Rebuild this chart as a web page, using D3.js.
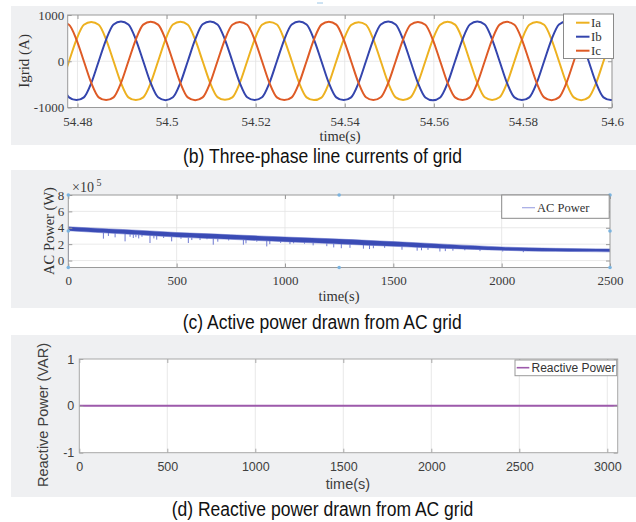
<!DOCTYPE html>
<html>
<head>
<meta charset="utf-8">
<script src="https://cdn.jsdelivr.net/npm/d3@7"></script>
<style>
  body { margin: 0; background: #fff; }
</style>
</head>
<body>
<div id="chart"></div>
<script>
// ---- (b) three-phase grid currents, read 12 times per 50 Hz cycle ----
const currentStart = 54.47643;
const currentStep = 0.02 / 12;
const ia = [-470,
  0, 470, 790, 850, 790, 470, 0, -470, -780, -840, -780, -470,
  0, 475, 795, 855, 790, 465, 0, -465, -775, -835, -780, -470,
  0, 470, 790, 850, 795, 470, 5, -470, -780, -840, -785, -475,
  0, 465, 785, 845, 790, 470, 0, -470, -780, -838, -780, -470,
  0, 470, 790, 852, 792, 472, 0, -468, -778, -836, -778, -468,
  0, 470, 790, 850, 790, 470, 0, -470, -782, -842, -782, -472,
  0, 470, 790];
const ib = [-470, -780, -840, -780, -470,
  0, 470, 795, 860, 795, 470, 0, -470, -780, -842, -780, -470,
  0, 472, 798, 862, 796, 470, 0, -468, -778, -838, -778, -468,
  0, 470, 795, 858, 795, 470, 0, -470, -780, -840, -780, -470,
  0, 470, 796, 860, 796, 470, 0, -470, -782, -844, -782, -472,
  0, 470, 795, 858, 794, 470, 0, -470, -780, -840, -780, -470,
  0, 470, 795, 860, 795, 470, 0, -470, -780, -840, -780];
const ic = [850, 790, 470, 0, -470, -780, -840, -780, -470,
  0, 470, 792, 852, 792, 470, 0, -470, -782, -842, -782, -470,
  0, 470, 790, 850, 790, 470, 0, -470, -780, -840, -780, -470,
  0, 472, 792, 854, 792, 470, 0, -468, -778, -838, -778, -468,
  0, 470, 790, 850, 790, 470, 0, -470, -780, -840, -780, -470,
  0, 470, 792, 852, 790, 470, 0, -470, -782, -842, -782, -470,
  0, 470, 790, 850, 790, 470, 0];
const currentTicks = [54.48, 54.5, 54.52, 54.54, 54.56, 54.58, 54.6];
const currentYTicks = [-1000, 0, 1000];
const phaseNames = ["Ia", "Ib", "Ic"];
const phaseColors = ["#EDB120", "#3445ad", "#DE5B26"];

// ---- (c) active power (x10^5 W): envelope of the dense trace + dips ----
const powerTime  = [0, 125, 250, 375, 500, 625, 750, 875, 1000, 1125, 1250, 1375, 1500, 1625, 1750, 1875, 2000, 2125, 2250, 2375, 2500];
const powerUpper = [4.12, 3.95, 3.79, 3.62, 3.42, 3.29, 3.15, 3.01, 2.87, 2.75, 2.62, 2.47, 2.31, 2.15, 1.97, 1.81, 1.65, 1.55, 1.49, 1.45, 1.42];
const powerLower = [3.64, 3.44, 3.26, 3.06, 2.86, 2.72, 2.59, 2.44, 2.30, 2.16, 2.02, 1.88, 1.74, 1.60, 1.48, 1.36, 1.26, 1.16, 1.12, 1.09, 1.06];
const startupTime = [0, 0];
const startupValue = [-0.1, 3.9];
const dipTime = [162, 185, 216, 262, 285, 300, 312, 325, 340, 377, 395, 408, 440, 477, 520, 554, 570, 608, 640, 669, 690, 740,
  808, 820, 870, 916, 930, 980, 1023, 1040, 1090, 1130, 1193, 1225, 1260, 1300, 1362, 1390, 1408, 1460, 1540, 1610, 1630,
  1660, 1715, 1740, 1775, 1830, 1900, 2005, 2100];
const dipValue = [2.67, 3.0, 2.83, 2.34, 2.9, 2.75, 2.85, 2.7, 2.9, 2.14, 2.7, 2.55, 2.75, 2.34, 2.65, 2.14, 2.5, 2.5, 2.6, 1.93, 2.3, 2.45,
  1.93, 2.1, 2.3, 1.72, 2.0, 2.15, 2.0, 2.1, 2.05, 1.85, 1.75, 1.6, 1.5, 1.55, 1.45, 1.4, 1.5, 1.55, 1.32, 1.2, 1.25,
  1.3, 1.1, 1.15, 1.2, 1.25, 1.15, 1.1, 1.02];
const powerXTicks = [0, 500, 1000, 1500, 2000, 2500];
const powerYTicks = [0, 2, 4, 6, 8];

// ---- (d) reactive power ----
const reactiveTime = [0, 3059];
const reactiveValue = [0, 0];
const reactiveXTicks = [0, 500, 1000, 1500, 2000, 2500, 3000];
const reactiveYTicks = [-1, 0, 1];

const serif = "'Liberation Serif', 'Times New Roman', serif";
const sans = "'Liberation Sans', Arial, Helvetica, sans-serif";
const plain = d => String(d);   // MATLAB style: hyphen minus

const svg = d3.select("#chart").append("svg")
    .attr("width", 636)
    .attr("height", 522);

// gray figure backgrounds
[[6, 145], [170, 308], [335, 497]].forEach(function(b) {
  svg.append("rect").attr("x", 11).attr("y", b[0]).attr("width", 625).attr("height", b[1] - b[0]).attr("fill", "#eff0f2");
});

let clipId = 0;

// white plot area + grid, returns group to draw data into (clipped)
function plotArea(x, y, xGrid, yGrid) {
  const left = x.range()[0], right = x.range()[1];
  const bottom = y.range()[0], top = y.range()[1];
  svg.append("rect").attr("x", left).attr("y", top).attr("width", right - left).attr("height", bottom - top).attr("fill", "#fff");
  const grid = svg.append("g").attr("stroke", "#e3e3e3").attr("stroke-width", 0.8);
  grid.selectAll(".vg").data(xGrid).enter().append("line")
      .attr("x1", d => x(d)).attr("x2", d => x(d)).attr("y1", top).attr("y2", bottom);
  grid.selectAll(".hg").data(yGrid).enter().append("line")
      .attr("y1", d => y(d)).attr("y2", d => y(d)).attr("x1", left).attr("x2", right);
  clipId++;
  svg.append("clipPath").attr("id", "clip" + clipId).append("rect")
      .attr("x", left).attr("y", top).attr("width", right - left).attr("height", bottom - top);
  return svg.append("g").attr("clip-path", "url(#clip" + clipId + ")");
}

// box, inward ticks on every side, tick labels
function axesBox(x, y, o) {
  const left = x.range()[0], right = x.range()[1];
  const bottom = y.range()[0], top = y.range()[1];
  const g = svg.append("g");
  const style = function(a) {
    a.select(".domain").remove();
    a.selectAll("line").attr("stroke", o.frame);
    a.selectAll("text").attr("fill", o.textColor).style("font-family", o.font).style("font-size", o.size + "px");
  };
  g.append("g").attr("transform", "translate(0," + bottom + ")")
      .call(d3.axisBottom(x).tickValues(o.xTicks).tickSizeInner(-4).tickSizeOuter(0).tickPadding(o.xPad).tickFormat(plain))
      .call(style);
  g.append("g").attr("transform", "translate(0," + top + ")")
      .call(d3.axisTop(x).tickValues(o.xTicks).tickSizeInner(-4).tickSizeOuter(0).tickFormat(""))
      .call(style);
  g.append("g").attr("transform", "translate(" + left + ",0)")
      .call(d3.axisLeft(y).tickValues(o.yTicks).tickSizeInner(-4).tickSizeOuter(0).tickPadding(o.yPad).tickFormat(plain))
      .call(style);
  g.append("g").attr("transform", "translate(" + right + ",0)")
      .call(d3.axisRight(y).tickValues(o.yTicks).tickSizeInner(-4).tickSizeOuter(0).tickFormat(""))
      .call(style);
  g.append("rect").attr("x", left).attr("y", top).attr("width", right - left).attr("height", bottom - top)
      .attr("fill", "none").attr("stroke", o.frame).attr("stroke-width", 1);
  return g;
}

function label(txt, x, y, font, size, rotate, color) {
  const t = svg.append("text").attr("text-anchor", "middle")
      .style("font-family", font).style("font-size", size + "px").attr("fill", color || "#333").text(txt);
  if (rotate) t.attr("transform", "translate(" + x + "," + y + ") rotate(-90)").attr("dy", "0.35em");
  else t.attr("x", x).attr("y", y);
  return t;
}

function caption(txt, x, y, width) {
  svg.append("text").attr("x", x).attr("y", y)
      .style("font-family", sans).style("font-size", "19.5px").attr("fill", "#111")
      .attr("textLength", width).attr("lengthAdjust", "spacingAndGlyphs").text(txt);
}

// ================= (b) =================
const xb = d3.scaleLinear().domain([54.4778, 54.6]).range([67.7, 612]);
const yb = d3.scaleLinear().domain([-1000, 1000]).range([107.5, 15]);
const currentTime = ia.map((d, i) => currentStart + i * currentStep);
const gb = plotArea(xb, yb, currentTicks, [0]);
const lineB = d3.line().x((d, i) => xb(currentTime[i])).y(d => yb(d)).curve(d3.curveMonotoneX);
[ia, ib, ic].forEach(function(series, k) {
  gb.append("path").datum(series).attr("d", lineB)
      .attr("fill", "none").attr("stroke", phaseColors[k]).attr("stroke-width", 2);
});
axesBox(xb, yb, { xTicks: currentTicks, yTicks: currentYTicks, xPad: 9, yPad: 3.5,
  frame: "#9a9a9a", textColor: "#3a3a3a", font: serif, size: 13 });
label("Igrid (A)", 24, 61, serif, 15, true);
label("time(s)", 340, 141, serif, 14.5, false);

// legend (b)
const legB = svg.append("g");
legB.append("rect").attr("x", 563.5).attr("y", 14).attr("width", 50).attr("height", 44.5)
    .attr("fill", "#fff").attr("stroke", "#8a8a8a").attr("stroke-width", 1);
phaseNames.forEach(function(n, k) {
  const ly = 22.7 + k * 14;
  legB.append("line").attr("x1", 576).attr("x2", 589.5).attr("y1", ly).attr("y2", ly)
      .attr("stroke", phaseColors[k]).attr("stroke-width", 2);
  legB.append("text").attr("x", 591).attr("y", ly).attr("dy", "0.35em")
      .style("font-family", serif).style("font-size", "13px").attr("fill", "#333").text(n);
});
caption("(b) Three-phase line currents of grid", 183, 163, 279);

// ================= (c) =================
const xc = d3.scaleLinear().domain([0, 2500]).range([68.3, 610]);
const yc = d3.scaleLinear().domain([-0.85, 8]).range([267.5, 195]);
const gc = plotArea(xc, yc, [500, 1000, 1500, 2000], [0, 2, 4, 6]);
const lowerAt = d3.scaleLinear().domain(powerTime).range(powerLower);
// dips below the dense band
gc.selectAll(".dip").data(dipTime).enter().append("line")
    .attr("x1", d => xc(d)).attr("x2", d => xc(d))
    .attr("y1", d => yc(lowerAt(d)))
    .attr("y2", (d, i) => yc(dipValue[i]))
    .attr("stroke", "#6f7ad2").attr("stroke-width", 1);
// start-up transient
gc.append("line").attr("x1", xc(startupTime[0])).attr("x2", xc(startupTime[1]))
    .attr("y1", yc(startupValue[0])).attr("y2", yc(startupValue[1]))
    .attr("stroke", "#6670cc").attr("stroke-width", 1);
const band = d3.area().x((d, i) => xc(powerTime[i])).y0(d => yc(d)).y1((d, i) => yc(powerUpper[i])).curve(d3.curveMonotoneX);
gc.append("path").datum(powerLower).attr("d", band)
    .attr("fill", "#3a4bb5").attr("stroke", "#5563c4").attr("stroke-width", 0.5);
axesBox(xc, yc, { xTicks: powerXTicks, yTicks: powerYTicks, xPad: 8, yPad: 4,
  frame: "#9a9a9a", textColor: "#3a3a3a", font: serif, size: 13 });
label("AC Power (W)", 49, 231, serif, 14.5, true);
label("time(s)", 339, 301, serif, 14.5, false);
svg.append("text").attr("x", 72).attr("y", 192).style("font-family", serif).style("font-size", "14px").attr("fill", "#3a3a3a").text("\u00d710");
svg.append("text").attr("x", 96.5).attr("y", 186).style("font-family", serif).style("font-size", "10px").attr("fill", "#3a3a3a").text("5");

// selection handles around axes (c)
const handles = [[0, 8], [0, 3.6], [0, -0.85], [1250, 8], [1250, -0.85], [2500, 8], [2500, 3.6], [2500, -0.85]];
svg.selectAll(".handle").data(handles).enter().append("circle")
    .attr("cx", d => xc(d[0])).attr("cy", d => yc(d[1])).attr("r", 1.8)
    .attr("fill", "#7ab3df");
svg.append("line").attr("x1", 317).attr("x2", 323).attr("y1", 3).attr("y2", 3).attr("stroke", "#9cc6e6").attr("stroke-width", 1);

// legend (c)
const legC = svg.append("g");
legC.append("rect").attr("x", 501.7).attr("y", 195).attr("width", 107.5).attr("height", 23.3)
    .attr("fill", "#fff").attr("stroke", "#8a8a8a").attr("stroke-width", 1);
legC.append("line").attr("x1", 522).attr("x2", 535).attr("y1", 207.7).attr("y2", 207.7)
    .attr("stroke", "#a3a9e4").attr("stroke-width", 1.2);
legC.append("text").attr("x", 537).attr("y", 207.7).attr("dy", "0.35em")
    .style("font-family", serif).style("font-size", "12.5px").attr("fill", "#333").text("AC Power");
caption("(c) Active power drawn from AC grid", 182.7, 328.5, 279);

// ================= (d) =================
const xd = d3.scaleLinear().domain([0, 3059]).range([79.3, 617.7]);
const yd = d3.scaleLinear().domain([-1, 1]).range([452.7, 359]);
const gd = plotArea(xd, yd, reactiveXTicks.slice(1), [0]);
const lineD = d3.line().x((d, i) => xd(reactiveTime[i])).y(d => yd(d));
gd.append("path").datum(reactiveValue).attr("d", lineD)
    .attr("fill", "none").attr("stroke", "#9d5aab").attr("stroke-width", 2);
axesBox(xd, yd, { xTicks: reactiveXTicks, yTicks: reactiveYTicks, xPad: 9, yPad: 5,
  frame: "#a8a8a8", textColor: "#404040", font: sans, size: 12.5 });
label("Reactive Power (VAR)", 43, 415, sans, 14.5, true, "#404040");
label("time(s)", 348, 489, sans, 14.5, false, "#404040");

// legend (d)
const legD = svg.append("g");
legD.append("rect").attr("x", 515).attr("y", 360).attr("width", 101.7).attr("height", 15.7)
    .attr("fill", "#fff").attr("stroke", "#9a9a9a").attr("stroke-width", 1);
legD.append("line").attr("x1", 516.7).attr("x2", 529.3).attr("y1", 367.7).attr("y2", 367.7)
    .attr("stroke", "#9d5aab").attr("stroke-width", 1.6);
legD.append("text").attr("x", 531.5).attr("y", 367.7).attr("dy", "0.35em")
    .style("font-family", sans).style("font-size", "12px").attr("fill", "#333").text("Reactive Power");
caption("(d) Reactive power drawn from AC grid", 171.7, 515.5, 301.6);
</script>
</body>
</html>
